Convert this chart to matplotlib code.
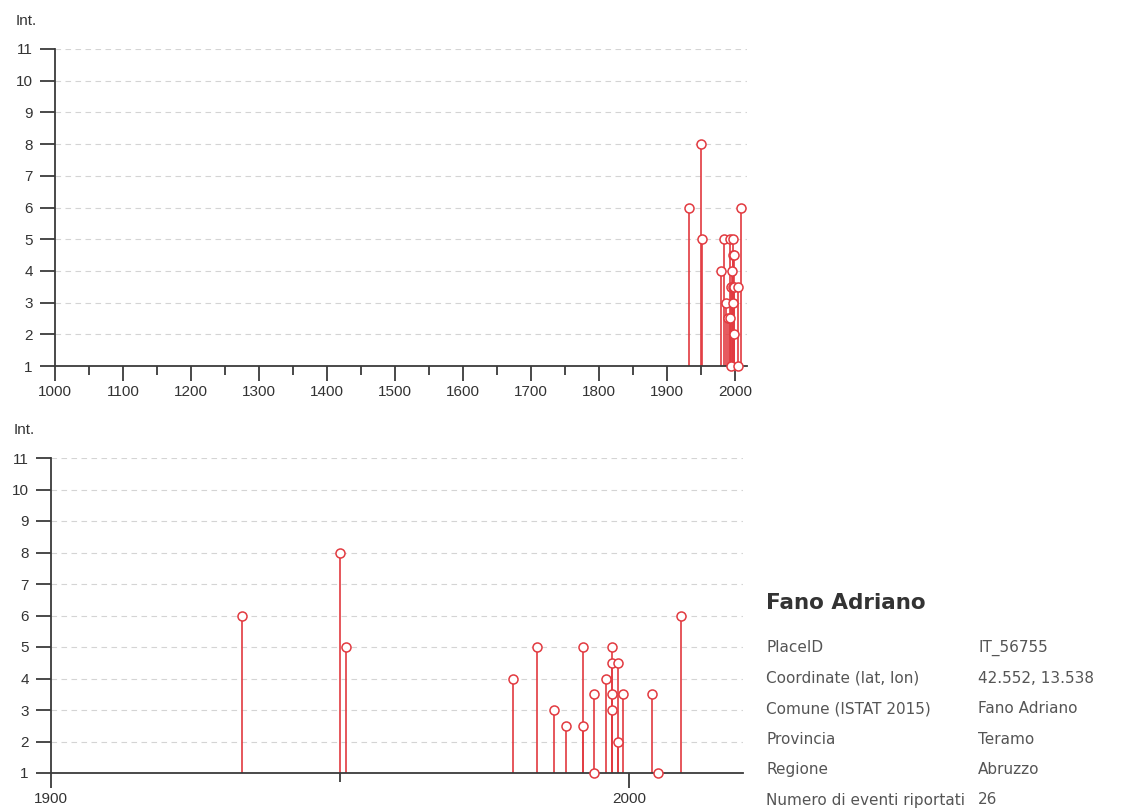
import matplotlib
matplotlib.use("Agg")
import matplotlib.pyplot as plt
from matplotlib.ticker import MultipleLocator

# ---- data ----
years = [1933, 1950, 1951, 1980, 1984, 1987, 1989, 1992, 1992, 1994, 1994,
         1996, 1997, 1997, 1997, 1997, 1998, 1998, 1999, 2004, 2005, 2009]
intensity = [6, 8, 5, 4, 5, 3, 2.5, 5, 2.5, 3.5, 1,
             4, 5, 4.5, 3.5, 3, 4.5, 2, 3.5, 3.5, 1, 6]
y_ticks = list(range(1, 12))
top_xticks = list(range(1000, 2001, 100))
bottom_xticks = [1900, 2000]
info_title = "Fano Adriano"
info_labels = ["PlaceID", "Coordinate (lat, lon)", "Comune (ISTAT 2015)",
               "Provincia", "Regione", "Numero di eventi riportati"]
info_values = ["IT_56755", "42.552, 13.538", "Fano Adriano",
               "Teramo", "Abruzzo", "26"]

W, H = 1128, 809
fig = plt.figure(figsize=(W / 100, H / 100), dpi=100)
plt.rcParams['font.family'] = ['Liberation Sans', 'DejaVu Sans']

RED = '#e23a40'
AX = '#3a3a3a'
TXT = '#333333'


def style(ax, xlim, xticks, minor):
    ax.set_xlim(*xlim)
    ax.set_ylim(1, 11)
    for s in ['top', 'right']:
        ax.spines[s].set_visible(False)
    for s in ['left', 'bottom']:
        ax.spines[s].set_color(AX)
        ax.spines[s].set_linewidth(1.3)
    ax.set_yticks(y_ticks)
    ax.set_xticks(xticks)
    ax.xaxis.set_minor_locator(MultipleLocator(minor))
    ax.tick_params(axis='y', length=11, width=1.3, color=AX, pad=5,
                   labelsize=11, labelcolor=TXT)
    ax.tick_params(axis='x', which='major', length=10.5, width=1.3, color=AX,
                   pad=3.5, labelsize=11, labelcolor=TXT)
    ax.tick_params(axis='x', which='minor', length=6.5, width=1.3, color=AX)
    for yv in y_ticks[1:]:
        ax.axhline(yv, color='#d4d4d4', lw=0.8, dashes=(5, 4), zorder=0)
    ax.vlines(years, 1, intensity, color=RED, lw=1.2, zorder=2, clip_on=False)
    ax.plot(years, intensity, 'o', ms=6.5, mfc='white', mec=RED, mew=1.1,
            zorder=3, clip_on=False)


ax1 = fig.add_axes([55 / W, 1 - 366 / H, 692 / W, 317 / H])
style(ax1, (1000, 2017.6), top_xticks, 50)
ax2 = fig.add_axes([51 / W, 1 - 773 / H, 692 / W, 315 / H])
style(ax2, (1900, 2019.7), bottom_xticks, 50)

fig.text(16 / W, 1 - 21 / H, "Int.", fontsize=11, color=TXT, va='center')
fig.text(14 / W, 1 - 430 / H, "Int.", fontsize=11, color=TXT, va='center')

fig.text(766 / W, 1 - 603 / H, info_title, fontsize=15.5, fontweight='bold',
         color=TXT, va='center', family='DejaVu Sans')
for i, (lab, val) in enumerate(zip(info_labels, info_values)):
    y = 648 + 30.4 * i
    fig.text(766 / W, 1 - y / H, lab, fontsize=11, color='#555555',
             va='center', family='DejaVu Sans')
    fig.text(978 / W, 1 - y / H, val, fontsize=11, color='#555555',
             va='center', family='DejaVu Sans')

fig.savefig("out.png", dpi=100)
